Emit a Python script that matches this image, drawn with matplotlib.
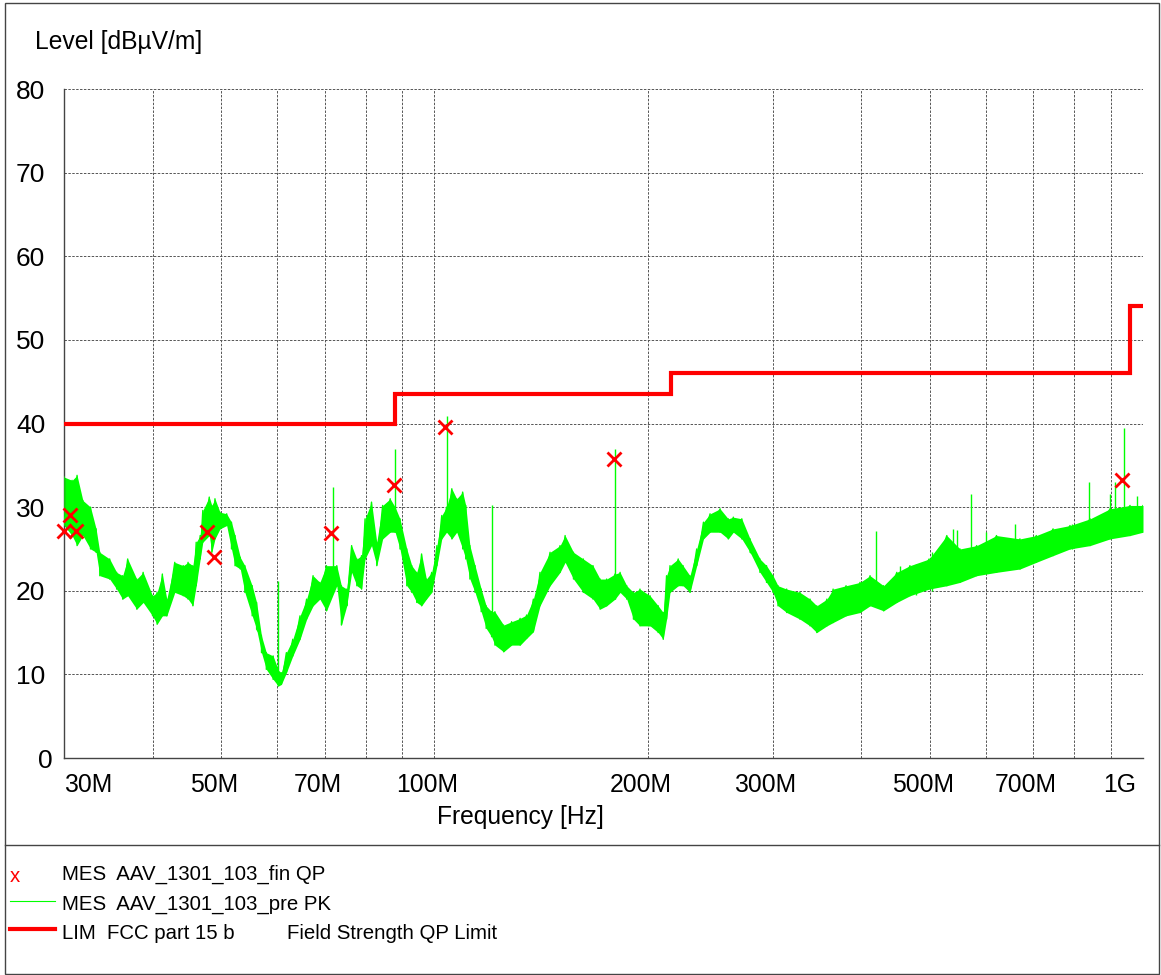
import matplotlib
matplotlib.use("Agg")
import matplotlib.pyplot as plt
from matplotlib.patches import Rectangle
from matplotlib.lines import Line2D
from matplotlib.ticker import NullFormatter
from matplotlib.transforms import ScaledTranslation

plt.rcParams['font.family'] = ['Liberation Sans', 'DejaVu Sans']
plt.rcParams['font.size'] = 17.7

# preview peak scan: frequency [MHz], band top / bottom [dBuV/m]
pk_freq = [30.0, 30.8, 31.3, 31.9, 32.7, 33.3, 33.7, 34.8, 35.6, 36.3, 36.9, 38.0, 38.8,
           40.0, 40.6, 41.3, 41.9, 43.0, 44.2, 44.9, 45.6, 46.1, 46.7, 47.1, 48.1, 48.5,
           49.0, 49.8, 50.9, 51.7, 52.3, 53.2, 54.0, 55.3, 56.1, 57.0, 57.9, 59.2, 60.2,
           60.8, 61.8, 63.1, 64.6, 66.0, 67.4, 68.9, 70.4, 72.8, 73.9, 75.2, 76.4, 77.7,
           78.9, 79.8, 81.5, 82.9, 84.5, 86.6, 88.0, 89.4, 91.4, 92.9, 94.4, 95.9, 97.4,
           99.1, 100.8, 102.4, 104.0, 105.8, 107.5, 109.6, 110.7, 112.2, 114.1, 116.4,
           118.3, 120.4, 121.7, 125.2, 128.5, 132.1, 134.9, 137.9, 140.9, 145.6, 150.4,
           152.9, 157.1, 162.2, 167.4, 171.3, 175.0, 179.8, 182.8, 186.8, 190.9, 195.0,
           201.5, 206.9, 210.3, 212.6, 215.0, 220.8, 224.3, 229.4, 234.5, 239.7, 244.9,
           253.0, 259.8, 264.1, 271.5, 278.9, 288.0, 294.2, 300.5, 305.4, 314.1, 328.0,
           338.9, 346.4, 358.0, 365.3, 381.0, 398.7, 411.9, 430.4, 449.3, 468.9, 499.0,
           528.6, 551.7, 582.5, 621.3, 670.4, 707.0, 746.6, 788.9, 842.0, 898.5, 958.8,
           1000.0]
pk_hi = [33.6, 33.2, 33.8, 30.8, 30.0, 27.4, 24.6, 23.8, 22.2, 21.8, 23.8, 21.4, 22.2,
         19.4, 19.8, 22.0, 19.0, 23.4, 23.0, 23.4, 23.0, 25.8, 26.6, 29.6, 31.2, 30.2,
         31.0, 29.4, 29.2, 28.2, 26.6, 24.0, 23.0, 20.6, 18.6, 14.6, 12.6, 12.2, 10.5,
         10.2, 12.6, 14.2, 17.0, 19.0, 21.8, 21.0, 23.0, 23.0, 20.6, 20.2, 25.4, 23.8,
         24.2, 28.6, 30.6, 25.8, 30.2, 31.0, 30.0, 28.6, 25.0, 23.0, 22.2, 24.4, 21.4,
         22.2, 25.4, 29.0, 30.0, 32.2, 31.0, 31.8, 30.2, 25.4, 23.0, 20.2,
         18.2, 17.5, 17.5, 15.9, 16.3, 16.7, 17.1, 19.0, 22.2, 24.6, 25.4,
         26.6, 24.6, 23.8, 23.0, 21.4, 21.4, 22.0, 22.2, 20.6, 19.8, 20.2,
         19.4, 18.2, 17.4, 21.8, 23.0, 23.8, 23.0, 21.8, 25.0, 28.2, 29.2,
         29.8, 28.6, 28.8, 28.6, 26.2, 23.8, 23.0, 21.8, 20.6, 20.2, 19.8,
         19.0, 18.2, 19.0, 20.2, 20.6, 21.0, 21.8, 20.6, 22.2, 23.0, 23.8,
         26.6, 25.0, 25.4, 26.6, 26.2, 26.6, 27.4, 27.8, 28.6, 29.8, 30.2,
         30.2]
pk_lo = [27.8, 26.6, 25.4, 26.6, 25.0, 24.6, 21.8, 21.4, 20.2, 19.0, 19.4, 17.8, 18.6,
         17.0, 16.0, 17.0, 17.0, 19.8, 19.4, 19.0, 18.2, 20.6, 23.8, 25.8, 26.6, 24.6,
         26.2, 27.4, 27.8, 25.0, 23.0, 22.6, 19.8, 17.0, 15.4, 12.6, 10.6, 9.4, 8.6,
         8.8, 10.2, 12.2, 14.2, 16.6, 18.2, 19.0, 17.6, 20.6, 15.9, 18.2, 22.2, 20.6,
         20.2, 23.8, 25.4, 23.0, 26.2, 27.0, 27.0, 25.0, 20.6, 19.8, 18.6, 18.2, 19.0,
         19.8, 23.0, 26.2, 27.0, 26.2, 27.0, 25.0, 23.8, 21.4, 19.8, 17.5,
         15.5, 14.5, 13.5, 12.7, 13.5, 13.5, 14.3, 15.1, 18.2, 20.6, 22.2,
         23.4, 21.4, 19.8, 19.0, 17.8, 18.2, 19.0, 19.8, 19.0, 16.6, 15.8,
         15.8, 15.0, 14.2, 16.6, 19.8, 20.6, 20.6, 19.8, 23.0, 26.2, 27.0,
         27.0, 26.2, 27.0, 26.2, 24.6, 22.2, 21.0, 19.8, 18.2, 17.4, 16.6,
         15.8, 15.0, 15.8, 16.2, 17.0, 17.4, 18.2, 17.6, 18.6, 19.4, 20.2,
         20.6, 21.0, 21.8, 22.2, 22.6, 23.4, 24.2, 25.0, 25.4, 26.2, 26.6,
         27.0]

# narrow spikes: frequency [MHz], top, base [dBuV/m]
spike_freq = [60.2, 71.9, 88.0, 104.0, 120.4, 179.8, 419.9, 454.0, 478.0, 503.0, 540.0,
              547.0, 571.0, 600.0, 659.8, 793.0, 838.2, 898.5, 913.0, 940.0, 980.0]
spike_top = [21.2, 32.4, 37.0, 40.9, 30.2, 36.9, 27.2, 23.0, 23.2, 24.6, 27.4,
             27.3, 31.6, 27.0, 28.0, 28.0, 33.0, 31.6, 33.0, 39.5, 31.3]
spike_base = [9.0, 22.0, 27.0, 27.0, 15.0, 19.0, 19.0, 19.0, 19.5, 20.0, 21.5,
              21.5, 22.5, 23.0, 24.0, 25.0, 26.0, 26.5, 27.0, 27.5, 28.0]

# final QP measurements
qp_freq = [30.0, 30.6, 31.2, 47.7, 48.8, 71.5, 87.8, 103.5, 179.0, 935.0]
qp_level = [27.1, 29.1, 27.1, 27.0, 24.0, 26.9, 32.7, 39.6, 35.7, 33.3]

# FCC part 15 b QP limit
lim_edges = [30, 88, 216, 960, 1000]
lim_levels = [40.0, 43.5, 46.0, 54.0]

x_ticks = [30, 50, 70, 100, 200, 300, 500, 700, 1000]
x_labels = ['30M', '50M', '70M', '100M', '200M', '300M', '500M', '700M', '1G']
x_minor = [40, 60, 80, 90, 400, 600, 800, 900]
y_ticks = [0, 10, 20, 30, 40, 50, 60, 70, 80]

W, H = 1161, 975
fig = plt.figure(figsize=(W / 100, H / 100), dpi=100)
ax = fig.add_axes([64 / W, 1 - 758 / H, (1143 - 64) / W, (758 - 89) / H])

green = '#00ff00'
ax.fill_between(pk_freq, pk_lo, pk_hi, color=green, lw=0, zorder=2)
zx, zy = [], []
for f, hi, lo in zip(pk_freq, pk_hi, pk_lo):
    zx += [f, f]
    zy += [hi, lo]
ax.plot(zx, zy, color=green, lw=1.0, zorder=3)
ax.vlines(spike_freq, spike_base, spike_top, color=green, lw=1.0, zorder=3)

ax.stairs(lim_levels, lim_edges, baseline=None, color='#ff0000', lw=3, zorder=4)
ax.plot(qp_freq, qp_level, ls='none', marker='x', ms=10, mew=2, color='#ff0000',
        zorder=5, clip_on=False)

ax.set_xscale('log')
ax.set_xlim(30, 1000)
ax.set_ylim(0, 80)
ax.set_xticks(x_ticks, x_labels)
ax.set_xticks(x_minor, minor=True)
ax.xaxis.set_minor_formatter(NullFormatter())
ax.set_yticks(y_ticks)
ax.tick_params(which='both', length=0)
ax.tick_params(axis='x', pad=10.5, labelsize=17.8)
ax.tick_params(axis='y', pad=13.5, labelsize=19)
ax.grid(True, which='both', color='#555555', linestyle=(0, (2.5, 1.5)), linewidth=0.7)
for s in ['top', 'right']:
    ax.spines[s].set_visible(False)
for s in ['left', 'bottom']:
    ax.spines[s].set_color('#444444')
    ax.spines[s].set_linewidth(1.0)

# tick labels sit a little left of their grid lines
for i, lbl in enumerate(ax.get_xticklabels()):
    if i == 0:
        lbl.set_ha('left')
        dx = 0
    elif i == len(x_ticks) - 1:
        lbl.set_ha('right')
        dx = -7
    else:
        dx = -7
    lbl.set_transform(lbl.get_transform() + ScaledTranslation(dx / 100, 0, fig.dpi_scale_trans))
ylbl0 = ax.get_yticklabels()[0]
ylbl0.set_transform(ylbl0.get_transform() + ScaledTranslation(7 / 100, 0, fig.dpi_scale_trans))

fig.text(35 / W, 1 - 42 / H, 'Level [dBµV/m]', va='center')
fig.text(437 / W, 1 - 817 / H, 'Frequency [Hz]', va='center')

# frame and legend block
fig.add_artist(Rectangle((5 / W, 1 / H), 1154 / W, 971 / H, transform=fig.transFigure,
                         fill=False, edgecolor='#444444', lw=1))
fig.add_artist(Line2D([5 / W, 1159 / W], [1 - 845 / H] * 2, transform=fig.transFigure,
                      color='#444444', lw=1))
leg_fs = 14.7
fig.text(10 / W, 1 - 882 / H, 'x', color='#ff0000', va='baseline', fontsize=leg_fs)
fig.text(62 / W, 1 - 880 / H, 'MES  AAV_1301_103_fin QP', va='baseline', fontsize=leg_fs)
fig.add_artist(Line2D([10 / W, 55 / W], [1 - 901 / H] * 2, transform=fig.transFigure,
                      color=green, lw=0.8))
fig.text(62 / W, 1 - 910 / H, 'MES  AAV_1301_103_pre PK', va='baseline', fontsize=leg_fs)
fig.add_artist(Line2D([10 / W, 55 / W], [1 - 929 / H] * 2, transform=fig.transFigure,
                      color='#ff0000', lw=3))
fig.text(62 / W, 1 - 939 / H, 'LIM  FCC part 15 b', va='baseline', fontsize=leg_fs)
fig.text(287 / W, 1 - 939 / H, 'Field Strength QP Limit', va='baseline', fontsize=leg_fs)

fig.savefig('out.png', dpi=100)
